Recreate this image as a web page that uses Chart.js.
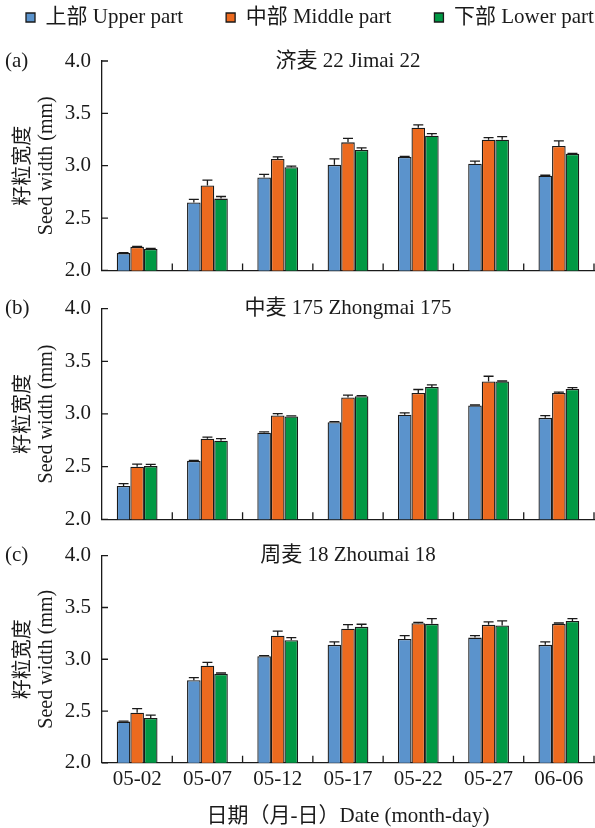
<!DOCTYPE html>
<html>
<head>
<meta charset="utf-8">
<script src="https://cdn.jsdelivr.net/npm/chart.js@4.4.1/dist/chart.umd.min.js"></script>
<style>
  html, body { margin: 0; padding: 0; background: #fff; }
  #wrap { position: relative; width: 595px; height: 828px; overflow: hidden; }
  canvas { position: absolute; left: 0; }
</style>
</head>
<body>
<div id="wrap">
  <canvas id="panelA" width="595" height="330" style="top:-36px"></canvas>
  <canvas id="panelB" width="595" height="260" style="top:285px"></canvas>
  <canvas id="panelC" width="595" height="298" style="top:530px"></canvas>
</div>
<script>
const dates = ["05-02", "05-07", "05-12", "05-17", "05-22", "05-27", "06-06"];
const yTickValues = [2.0, 2.5, 3.0, 3.5, 4.0];
const seriesNames = ["上部 Upper part", "中部 Middle part", "下部 Lower part"];

// 济麦 22
const upperA = [2.165, 2.648, 2.888, 3.008, 3.084, 3.018, 2.904];
const upperErrA = [0.005, 0.03, 0.03, 0.057, 0.006, 0.025, 0.005];
const middleA = [2.225, 2.812, 3.065, 3.223, 3.362, 3.248, 3.188];
const middleErrA = [0.005, 0.05, 0.02, 0.038, 0.028, 0.02, 0.05];
const lowerA = [2.205, 2.686, 2.986, 3.151, 3.286, 3.248, 3.113];
const lowerErrA = [0.005, 0.02, 0.01, 0.02, 0.02, 0.03, 0.005];

// 中麦 175
const upperB = [2.316, 2.555, 2.821, 2.922, 2.992, 3.080, 2.963];
const upperErrB = [0.022, 0.005, 0.008, 0.005, 0.019, 0.005, 0.022];
const middleB = [2.499, 2.764, 2.985, 3.156, 3.200, 3.308, 3.200];
const middleErrB = [0.025, 0.016, 0.019, 0.022, 0.032, 0.05, 0.008];
const lowerB = [2.505, 2.745, 2.976, 3.168, 3.257, 3.308, 3.238];
const lowerErrB = [0.016, 0.02, 0.005, 0.005, 0.019, 0.005, 0.012];

// 周麦 18
const upperC = [2.398, 2.798, 3.029, 3.139, 3.196, 3.209, 3.139];
const upperErrC = [0.005, 0.025, 0.006, 0.028, 0.032, 0.019, 0.028];
const middleC = [2.483, 2.937, 3.228, 3.294, 3.348, 3.332, 3.342];
const middleErrC = [0.04, 0.032, 0.044, 0.041, 0.008, 0.028, 0.008];
const lowerC = [2.433, 2.859, 3.184, 3.313, 3.342, 3.326, 3.370];
const lowerErrC = [0.028, 0.008, 0.025, 0.025, 0.05, 0.044, 0.022];

const colors = ["#5b93cc", "#ec6a1f", "#009944"];
const ink = "#1a1a1a";
const family = "'Liberation Serif', 'Noto Sans CJK SC', serif";

// error bars on top of every bar
const errorBars = {
  id: "errorBars",
  afterDatasetsDraw(chart) {
    const ctx = chart.ctx;
    const y = chart.scales.y;
    ctx.save();
    ctx.strokeStyle = ink;
    ctx.lineWidth = 1.3;
    chart.data.datasets.forEach((ds, i) => {
      chart.getDatasetMeta(i).data.forEach((bar, j) => {
        const top = y.getPixelForValue(ds.data[j] + ds.errors[j]);
        ctx.beginPath();
        ctx.moveTo(bar.x, bar.y);
        ctx.lineTo(bar.x, top);
        ctx.moveTo(bar.x - 5, top);
        ctx.lineTo(bar.x + 5, top);
        ctx.stroke();
      });
    });
    ctx.restore();
  }
};

// inward tick marks, panel label and title
const panelDecor = {
  id: "panelDecor",
  afterDraw(chart, args, opts) {
    const { ctx, chartArea: a, scales: { x, y } } = chart;
    ctx.save();
    ctx.strokeStyle = ink;
    ctx.lineWidth = 1.3;
    ctx.beginPath();
    yTickValues.forEach(v => {
      const py = y.getPixelForValue(v);
      ctx.moveTo(a.left, py);
      ctx.lineTo(a.left + 6, py);
    });
    for (let i = 1; i <= dates.length; i++) {
      const px = i < dates.length ? (x.getPixelForValue(i - 1) + x.getPixelForValue(i)) / 2 : x.right;
      ctx.moveTo(px, a.bottom);
      ctx.lineTo(px, a.bottom - 7);
    }
    ctx.stroke();

    ctx.fillStyle = ink;
    ctx.font = "21px " + family;
    ctx.textBaseline = "middle";
    ctx.textAlign = "left";
    ctx.fillText(opts.label, 5, a.top);
    ctx.textAlign = "center";
    ctx.fillText(opts.title, (a.left + a.right) / 2, a.top);
    ctx.restore();
  }
};

// legend: one row, starts near the left edge, leaves the plot top where it is
const legendFit = {
  id: "legendFit",
  beforeInit(chart) {
    const fit = chart.legend.fit;
    chart.legend.fit = function () {
      this.maxWidth = 2000;
      fit.call(this);
      this.height = 97;
    };
  },
  beforeDraw(chart) {
    const lg = chart.legend;
    lg.left = 26 - lg.options.labels.padding;
    lg.right = 2000;
  }
};

function makeDatasets(upper, upperErr, middle, middleErr, lower, lowerErr) {
  const vals = [upper, middle, lower];
  const errs = [upperErr, middleErr, lowerErr];
  return vals.map((v, i) => ({
    label: seriesNames[i],
    data: v,
    errors: errs[i],
    backgroundColor: colors[i],
    borderColor: ink,
    borderWidth: 1.3,
    categoryPercentage: 0.58,
    barPercentage: 1.0
  }));
}

function makeChart(id, datasets, cfg) {
  return new Chart(document.getElementById(id), {
    type: "bar",
    data: { labels: dates, datasets: datasets },
    plugins: [errorBars, panelDecor].concat(cfg.legend ? [legendFit] : []),
    options: {
      responsive: false,
      animation: false,
      devicePixelRatio: 1,
      events: [],
      layout: { padding: cfg.padding },
      plugins: {
        tooltip: { enabled: false },
        legend: {
          display: cfg.legend,
          position: "top",
          align: "start",
          labels: { boxWidth: 9, boxHeight: 9, padding: 43, color: ink, font: { family: family, size: 21 } }
        },
        panelDecor: { label: cfg.label, title: cfg.title }
      },
      scales: {
        x: {
          grid: { display: true, drawOnChartArea: false, drawTicks: false },
          border: { display: true, color: ink, width: 1.3 },
          ticks: { display: cfg.xLabels, padding: 4, color: ink, font: { family: family, size: 21 } },
          title: {
            display: cfg.xLabels,
            text: "日期（月-日）Date (month-day)",
            color: ink,
            font: { family: family, size: 21, lineHeight: "24px" },
            padding: { top: 8, bottom: 0 }
          }
        },
        y: {
          min: 2,
          max: 4,
          afterBuildTicks: s => { s.ticks = yTickValues.map(v => ({ value: v })); },
          afterFit: s => { s.width = 82; },
          grid: { display: true, drawOnChartArea: false, drawTicks: false },
          border: { display: true, color: ink, width: 1.3 },
          ticks: { padding: 11, color: ink, font: { family: family, size: 21 }, callback: v => v.toFixed(1) },
          title: {
            display: true,
            text: ["籽粒宽度", "Seed width (mm)"],
            color: ink,
            font: { family: family, size: 20, lineHeight: "23px" },
            padding: { top: -8, bottom: 0 }
          }
        }
      }
    }
  });
}

makeChart("panelA", makeDatasets(upperA, upperErrA, middleA, middleErrA, lowerA, lowerErrA), {
  legend: true, xLabels: false, label: "(a)", title: "济麦 22 Jimai 22",
  padding: { top: 0, left: 20, right: 1, bottom: 22.5 }
});
makeChart("panelB", makeDatasets(upperB, upperErrB, middleB, middleErrB, lowerB, lowerErrB), {
  legend: false, xLabels: false, label: "(b)", title: "中麦 175 Zhongmai 175",
  padding: { top: 23.3, left: 20, right: 1, bottom: 25.7 }
});
makeChart("panelC", makeDatasets(upperC, upperErrC, middleC, middleErrC, lowerC, lowerErrC), {
  legend: false, xLabels: true, label: "(c)", title: "周麦 18 Zhoumai 18",
  padding: { top: 25.7, left: 20, right: 1, bottom: 0 }
});
</script>
</body>
</html>
